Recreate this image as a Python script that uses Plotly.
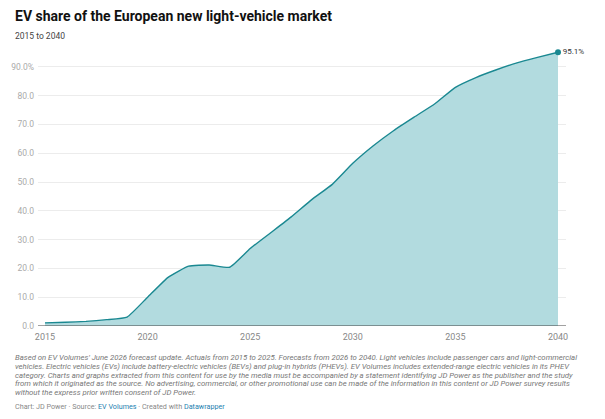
import plotly.graph_objects as go

years = list(range(2015, 2041))
ev_share = [1.1, 1.3, 1.6, 2.2, 3.1, 10.0, 16.9, 20.8, 21.2, 20.4, 26.9, 32.4, 37.9,
            43.9, 49.2, 56.5, 62.6, 67.9, 72.6, 77.2, 82.9, 86.3, 89.0, 91.4, 93.3, 95.1]
y_tickvals = [0, 10, 20, 30, 40, 50, 60, 70, 80, 90]
y_ticktext = ["0.0", "10.0", "20.0", "30.0", "40.0", "50.0", "60.0", "70.0", "80.0", "90.0%"]
x_tickvals = [2015, 2020, 2025, 2030, 2035, 2040]

title = "EV share of the European new light-vehicle market"
subtitle = "2015 to 2040"
notes = [
    "Based on EV Volumes' June 2026 forecast update. Actuals from 2015 to 2025. Forecasts from 2026 to 2040. Light vehicles include passenger cars and light-commercial",
    "vehicles. Electric vehicles (EVs) include battery-electric vehicles (BEVs) and plug-in hybrids (PHEVs). EV Volumes includes extended-range electric vehicles in its PHEV",
    "category. Charts and graphs extracted from this content for use by the media must be accompanied by a statement identifying JD Power as the publisher and the study",
    "from which it originated as the source. No advertising, commercial, or other promotional use can be made of the information in this content or JD Power survey results",
    "without the express prior written consent of JD Power.",
]

LINE = "#1a8891"
FILL = "#b2dbdf"
FONT = "Roboto"

fig = go.Figure()
fig.add_trace(go.Scatter(
    x=years, y=ev_share, mode="lines", fill="tozeroy",
    line=dict(color=LINE, width=1.4, shape="spline", smoothing=0.4),
    fillcolor=FILL, hoverinfo="skip", showlegend=False))
fig.add_trace(go.Scatter(
    x=[years[-1]], y=[ev_share[-1]], mode="markers+text",
    marker=dict(color=LINE, size=6),
    text=[f"{ev_share[-1]:.1f}%"], textposition="middle right",
    textfont=dict(family=FONT, size=8, color="#333333"),
    cliponaxis=False, showlegend=False, hoverinfo="skip"))

fig.update_layout(
    width=605, height=419,
    margin=dict(l=38, r=39, t=45, b=93),
    paper_bgcolor="white", plot_bgcolor="white",
    font=dict(family=FONT, color="#333333"),
    xaxis=dict(range=[2014.66, 2040.39], tickvals=x_tickvals,
               tickfont=dict(family=FONT, size=9, color="#888888"),
               showgrid=False, zeroline=False, showline=False, ticks="",
               ticklabelstandoff=4),
    yaxis=dict(range=[0, 97.6], tickvals=y_tickvals, ticktext=y_ticktext,
               tickfont=dict(family=FONT, size=8.5, color="#aaaaaa"),
               showgrid=True, gridcolor="#ececec", gridwidth=1,
               zeroline=False, showline=False, ticks="", ticklabelstandoff=3),
    shapes=[dict(type="line", xref="paper", yref="y", x0=0, x1=1, y0=0, y1=0,
                 line=dict(color="#444444", width=1.2))],
)

ann = [
    dict(text=f"<b>{title}</b>", x=13, y=16, font=dict(size=14, color="#111111")),
    dict(text=subtitle, x=13, y=36, font=dict(size=8.5, color="#444444")),
]
note_y0 = 357.5
for i, line in enumerate(notes):
    ann.append(dict(text=f"<i>{line}</i>", x=13, y=note_y0 + i * 8.8,
                    font=dict(size=7.75, color="#777777")))
ann.append(dict(
    text='Chart: JD Power · Source: <span style="color:#1e7fb0">EV Volumes</span> · Created with <span style="color:#1e7fb0">Datawrapper</span>',
    x=13, y=406, font=dict(size=7.2, color="#888888")))

plot_w = 605 - 38 - 39
plot_h = 419 - 45 - 93
for spec in ann:
    fig.add_annotation(xref="paper", yref="paper",
                       x=(spec["x"] - 38) / plot_w,
                       y=(419 - 93 - spec["y"]) / plot_h,
                       xanchor="left", yanchor="middle",
                       text=spec["text"], showarrow=False,
                       font=dict(family=FONT, **spec["font"]))

fig.write_html("out.html")
